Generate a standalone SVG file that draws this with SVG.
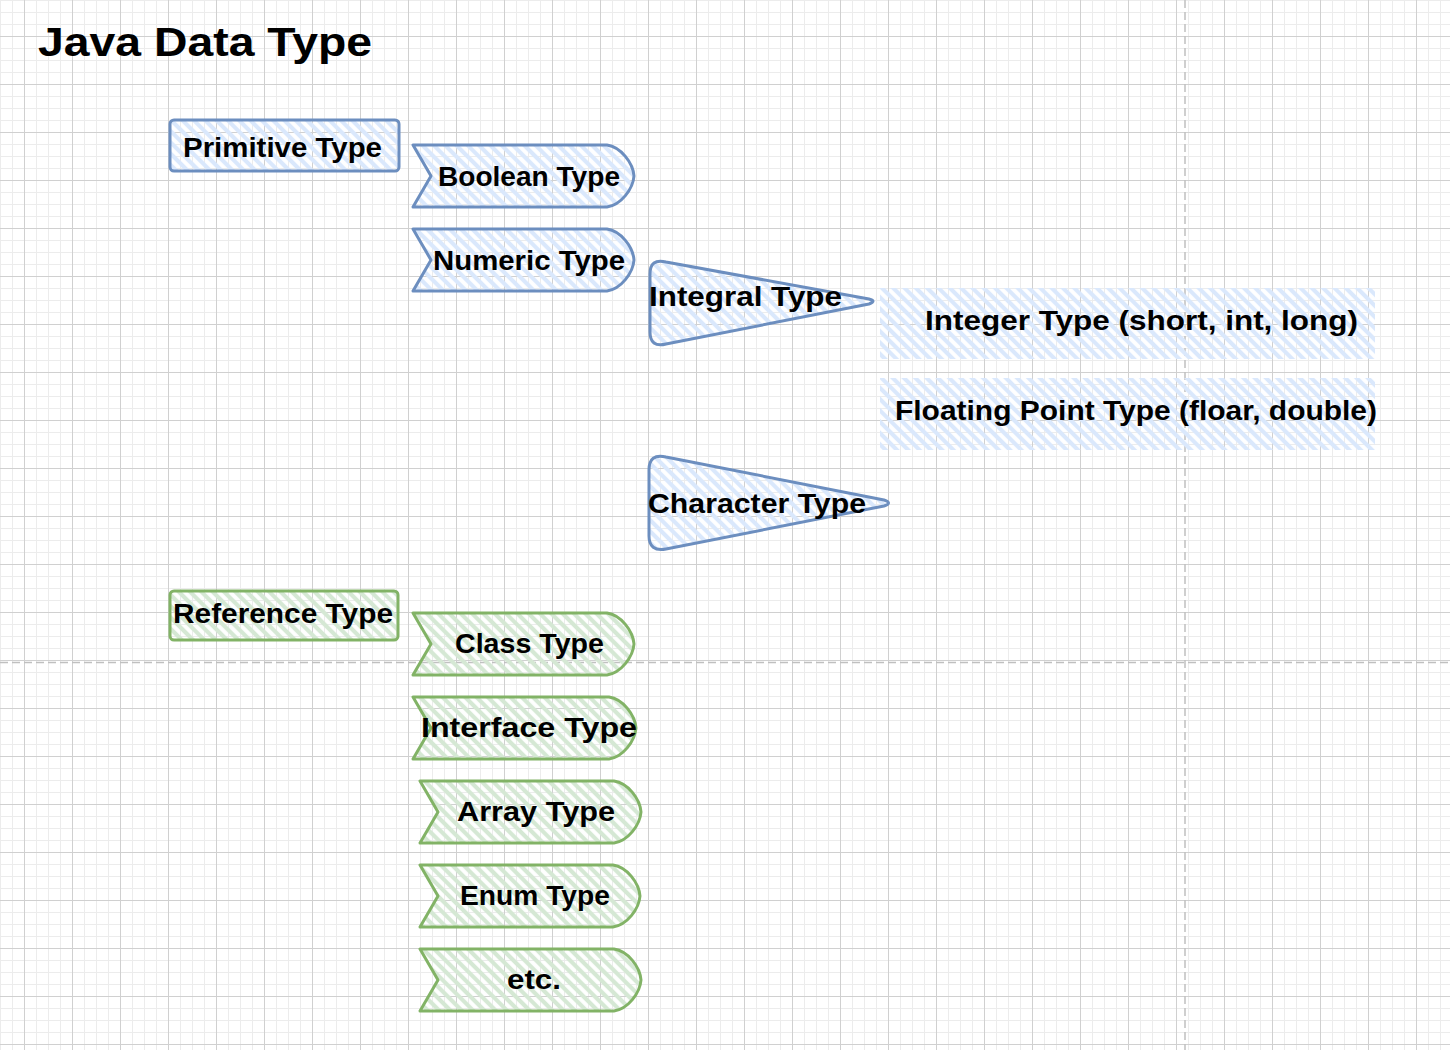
<svg xmlns="http://www.w3.org/2000/svg" width="1450" height="1050" viewBox="0 0 1450 1050">
  <style>
    .lbl { font-family: "Liberation Sans", Arial, sans-serif; font-weight: bold; font-size: 27px; fill: #000; }
    .title { font-family: "Liberation Sans", Arial, sans-serif; font-weight: bold; font-size: 40px; fill: #000; }
    .blue { fill: url(#hatchBlue); stroke: #6c8ebf; stroke-width: 3; stroke-linejoin: round; stroke-linecap: round; }
    .green { fill: url(#hatchGreen); stroke: #82b366; stroke-width: 3; stroke-linejoin: round; stroke-linecap: round; }
    .hatchOnly { fill: url(#hatchBlue); stroke: none; }
  </style>
  <defs>
    <pattern id="minorGrid" patternUnits="userSpaceOnUse" width="12" height="12">
      <path d="M0.5 0 V12 M0 0.5 H12" stroke="#ececec" stroke-width="1" fill="none"/>
    </pattern>
    <pattern id="majorGrid" patternUnits="userSpaceOnUse" x="24" y="36" width="48" height="48">
      <path d="M0.5 0 V48 M0 0.5 H48" stroke="#d0d0d0" stroke-width="1" fill="none"/>
    </pattern>
    <pattern id="hatchBlue" patternUnits="userSpaceOnUse" width="8" height="8" patternTransform="rotate(45)">
      <line x1="-1" y1="4" x2="9" y2="4" stroke="#dae8fc" stroke-width="4.2"/>
    </pattern>
    <pattern id="hatchGreen" patternUnits="userSpaceOnUse" width="8" height="8" patternTransform="rotate(45)">
      <line x1="-1" y1="4" x2="9" y2="4" stroke="#d5e8d4" stroke-width="4.2"/>
    </pattern>
  </defs>

  <g id="background">
    <rect x="0" y="0" width="1450" height="1050" fill="#ffffff"/>
    <rect x="0" y="0" width="1450" height="1050" fill="url(#minorGrid)"/>
    <rect x="0" y="0" width="1450" height="1050" fill="url(#majorGrid)"/>
    <line x1="1185" y1="0" x2="1185" y2="1050" stroke="#c0c0c0" stroke-width="1.5" stroke-dasharray="8 4"/>
    <line x1="0" y1="662.5" x2="1450" y2="662.5" stroke="#c0c0c0" stroke-width="1.5" stroke-dasharray="8 4"/>
  </g>

  <g id="title">
    <text class="title" x="38" y="56" textLength="334" lengthAdjust="spacingAndGlyphs">Java Data Type</text>
  </g>

  <g id="connectors"></g>

  <g id="primitive-type">
    <rect class="blue" x="170" y="120" width="229" height="51" rx="4"/>
    <text class="lbl" x="183" y="157" textLength="199" lengthAdjust="spacingAndGlyphs">Primitive Type</text>
  </g>

  <g id="boolean-type">
    <path class="blue" d="M413,145 H607 C621,147 633,163 634,176 C633,189 621,205 607,207 H413 L431,176 Z"/>
    <text class="lbl" x="438" y="186" textLength="182" lengthAdjust="spacingAndGlyphs">Boolean Type</text>
  </g>

  <g id="numeric-type">
    <path class="blue" d="M413,229 H607 C621,231 633,247 634,260 C633,273 621,289 607,291 H413 L431,260 Z"/>
    <text class="lbl" x="433" y="270" textLength="192" lengthAdjust="spacingAndGlyphs">Numeric Type</text>
  </g>

  <g id="integral-type">
    <path class="blue" d="M650,274 Q650,258 666,262 L869,299 Q877,301 869,304 L666,344 Q650,348 650,332 Z"/>
    <text class="lbl" x="649" y="306" textLength="193" lengthAdjust="spacingAndGlyphs">Integral Type</text>
  </g>

  <g id="integer-type">
    <rect class="hatchOnly" x="880" y="288" width="495" height="71"/>
    <text class="lbl" x="925" y="330" textLength="433" lengthAdjust="spacingAndGlyphs">Integer Type (short, int, long)</text>
  </g>

  <g id="floating-point-type">
    <rect class="hatchOnly" x="880" y="378" width="495" height="72"/>
    <text class="lbl" x="895" y="420" textLength="482" lengthAdjust="spacingAndGlyphs">Floating Point Type (floar, double)</text>
  </g>

  <g id="character-type">
    <path class="blue" d="M649,470 Q649,453 666,457 L884,500 Q893,503 884,506 L666,549 Q649,552 649,536 Z"/>
    <text class="lbl" x="648" y="513" textLength="218" lengthAdjust="spacingAndGlyphs">Character Type</text>
  </g>

  <g id="reference-type">
    <rect class="green" x="170" y="591" width="228" height="49" rx="4"/>
    <text class="lbl" x="173" y="623" textLength="220" lengthAdjust="spacingAndGlyphs">Reference Type</text>
  </g>

  <g id="class-type">
    <path class="green" d="M413,613 H607 C621,615 633,631 634,644 C633,657 621,673 607,675 H413 L431,644 Z"/>
    <text class="lbl" x="455" y="653" textLength="149" lengthAdjust="spacingAndGlyphs">Class Type</text>
  </g>

  <g id="interface-type">
    <path class="green" d="M413,697 H609 C623,699 635,715 636,728 C635,741 623,757 609,759 H413 L431,728 Z"/>
    <text class="lbl" x="421" y="737" textLength="216" lengthAdjust="spacingAndGlyphs">Interface Type</text>
  </g>

  <g id="array-type">
    <path class="green" d="M420,781 H614 C628,783 640,799 641,812 C640,825 628,841 614,843 H420 L438,812 Z"/>
    <text class="lbl" x="457" y="821" textLength="158" lengthAdjust="spacingAndGlyphs">Array Type</text>
  </g>

  <g id="enum-type">
    <path class="green" d="M420,865 H613 C627,867 639,883 640,896 C639,909 627,925 613,927 H420 L438,896 Z"/>
    <text class="lbl" x="460" y="905" textLength="150" lengthAdjust="spacingAndGlyphs">Enum Type</text>
  </g>

  <g id="etc">
    <path class="green" d="M420,949 H614 C628,951 640,967 641,980 C640,993 628,1009 614,1011 H420 L438,980 Z"/>
    <text class="lbl" x="507" y="989" textLength="54" lengthAdjust="spacingAndGlyphs">etc.</text>
  </g>
</svg>
